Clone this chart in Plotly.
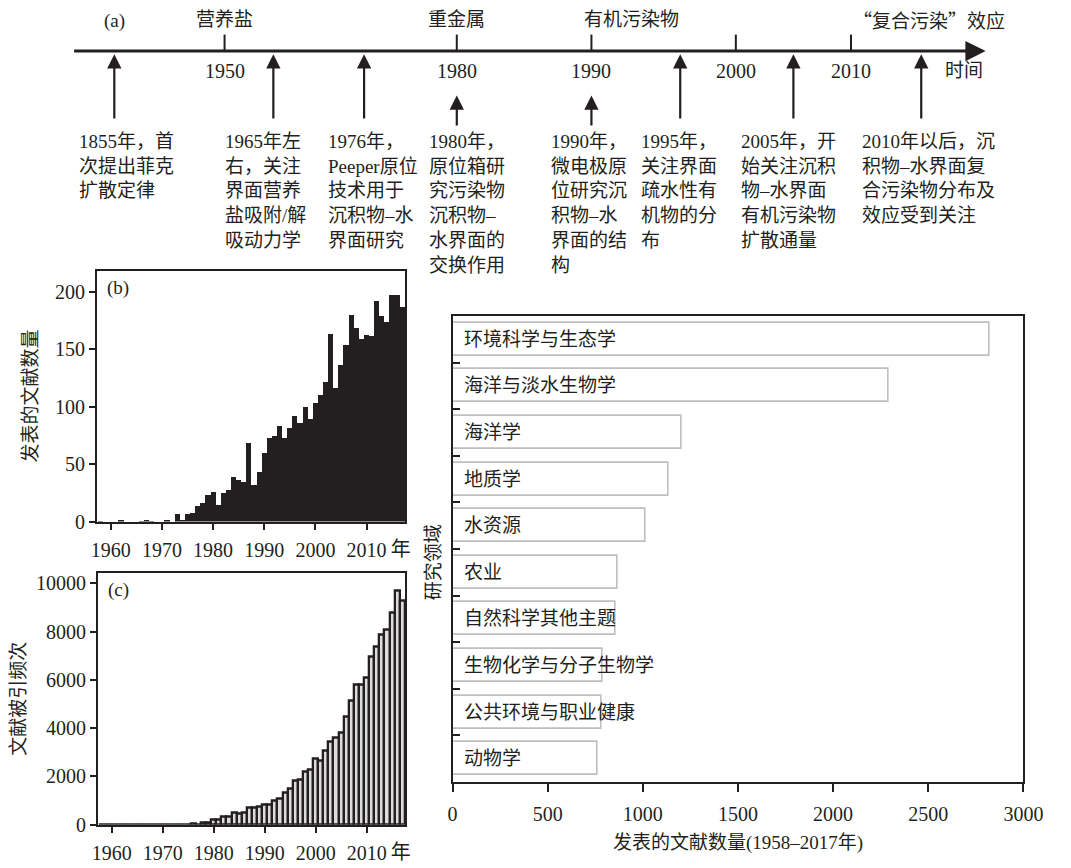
import plotly.graph_objects as go

W, H = 1071, 868
INK = "#231f20"
FONT = "Liberation Serif, Noto Sans CJK SC, serif"
CJK = "Noto Sans CJK SC"

# ---------------- data ----------------
years = list(range(1958, 2018))
papers = [1, 0, 0, 0, 2, 0, 0, 0, 1, 2, 1, 0,
          0, 2, 0, 7, 2, 7, 8, 14, 17, 24,
          26, 15, 25, 28, 39, 37, 35, 69, 32, 44,
          60, 73, 75, 84, 73, 82, 92, 86, 100, 90,
          104, 111, 122, 164, 117, 137, 154, 180, 169, 159,
          163, 162, 192, 179, 174, 198, 198, 187]
citations = [0, 0, 0, 0, 0, 0, 0, 0, 0, 0, 0, 0,
             0, 0, 0, 0, 0, 0, 30, 20, 70, 80,
             190, 200, 350, 350, 520, 450, 500, 700, 700, 740,
             850, 850, 980, 1090, 1310, 1500, 1810, 1880, 2210, 2290,
             2740, 2660, 3070, 3460, 3590, 3830, 4470, 5160, 5800, 5800,
             6100, 6970, 7390, 7890, 8090, 8790, 9690, 9280]
year_ticks = [1960, 1970, 1980, 1990, 2000, 2010]

fields = ["环境科学与生态学", "海洋与淡水生物学", "海洋学", "地质学", "水资源",
          "农业", "自然科学其他主题", "生物化学与分子生物学", "公共环境与职业健康", "动物学"]
field_counts = [2824, 2289, 1206, 1134, 1012, 867, 859, 787, 782, 760]

# timeline content
tl_years = ["1950", "1980", "1990", "2000", "2010"]
tl_themes = {"1950": "营养盐", "1980": "重金属", "1990": "有机污染物", "2010": "“复合污染”效应"}
tl_events = [
    ["1855年，首", "次提出菲克", "扩散定律"],
    ["1965年左", "右，关注", "界面营养", "盐吸附/解", "吸动力学"],
    ["1976年，", "Peeper原位", "技术用于", "沉积物–水", "界面研究"],
    ["1980年，", "原位箱研", "究污染物", "沉积物–", "水界面的", "交换作用"],
    ["1990年，", "微电极原", "位研究沉", "积物–水", "界面的结", "构"],
    ["1995年，", "关注界面", "疏水性有", "机物的分", "布"],
    ["2005年，开", "始关注沉积", "物–水界面", "有机污染物", "扩散通量"],
    ["2010年以后，沉", "积物–水界面复", "合污染物分布及", "效应受到关注"],
]

# ---------------- timeline layout (schematic, pixel based) ----------------
tl_tick_px = [224, 462, 600, 748, 866]
tl_theme_anchor = {"1950": (224, "center"), "1980": (462, "center"),
                   "1990": (590, "left"), "2010": (866, "left")}
ev_arrow_px = [111, 274, 367, 462, 600, 691, 807, 938]
ev_short = [False, False, False, True, True, False, False, False]
ev_text_px = [73, 222, 328, 431, 556, 649, 751, 875]

NUM_SIZE = 20
TXT_SIZE = 19
YEAR_RANGE = [1957.3, 2017.6]


def px(x):
    return x / W


def py(y):
    return 1 - y / H


def cjk_quotes(s):
    # render curly quotes with the CJK face so they take full width
    for q in ("“", "”"):
        s = s.replace(q, f'<span style="font-family:{CJK}">{q}</span>')
    return s


def label(text, x, y, size=TXT_SIZE, xanchor="center", yanchor="middle", **kw):
    return dict(text=text, x=px(x), y=py(y), xref="paper", yref="paper",
                xanchor=xanchor, yanchor=yanchor, showarrow=False,
                font=dict(size=size, color=INK, family=FONT), **kw)


fig = go.Figure()

# (b) papers per year
fig.add_trace(go.Bar(x=years, y=papers, width=1.0, xaxis="x", yaxis="y",
                     marker=dict(color=INK, line=dict(width=0)), showlegend=False))
# (c) citations per year
fig.add_trace(go.Bar(x=years, y=citations, width=1.0, xaxis="x2", yaxis="y2",
                     marker=dict(color="#dcdcdc", line=dict(color=INK, width=2.3)),
                     showlegend=False))
# (d) research fields
fig.add_trace(go.Bar(x=field_counts, y=fields, orientation="h", width=0.705,
                     xaxis="x3", yaxis="y3",
                     marker=dict(color="white", line=dict(color="#bfbfbf", width=1.6)),
                     showlegend=False))
# empty traces so the unit axes ("年") over panels b and c are drawn
fig.add_trace(go.Scatter(x=[], y=[], xaxis="x4", yaxis="y", showlegend=False))
fig.add_trace(go.Scatter(x=[], y=[], xaxis="x5", yaxis="y2", showlegend=False))

axis_common = dict(showline=True, linecolor=INK, linewidth=2, mirror=True,
                   showgrid=False, zeroline=False, ticks="outside", tickcolor=INK,
                   tickwidth=2, ticklen=6,
                   tickfont=dict(family=FONT, size=NUM_SIZE, color=INK))
unit_axis = dict(range=YEAR_RANGE, tickvals=[2016.7], ticktext=["年"],
                 ticks="outside", ticklen=6, tickcolor="rgba(0,0,0,0)",
                 showline=False, showgrid=False, zeroline=False, side="bottom",
                 tickfont=dict(family=FONT, size=NUM_SIZE, color=INK))
title_font = dict(family=FONT, size=TXT_SIZE, color=INK)

fig.update_layout(
    width=W, height=H, margin=dict(l=0, r=0, t=0, b=0),
    paper_bgcolor="white", plot_bgcolor="white",
    font=dict(family=FONT, size=TXT_SIZE, color=INK),
    bargap=0,
    xaxis=dict(domain=[px(93.3), px(409.3)], range=YEAR_RANGE, anchor="y",
               tickvals=year_ticks, ticklabelstandoff=3, **axis_common),
    yaxis=dict(domain=[py(528.3), py(274)], range=[0, 218.5], anchor="x",
               tickvals=[0, 50, 100, 150, 200],
               title=dict(text="发表的文献数量", font=title_font, standoff=12),
               **axis_common),
    xaxis2=dict(domain=[px(94.3), px(409.3)], range=YEAR_RANGE, anchor="y2",
                tickvals=year_ticks, ticklabelstandoff=3, **axis_common),
    yaxis2=dict(domain=[py(835.3), py(580)], range=[0, 10450], anchor="x2",
                tickvals=[0, 2000, 4000, 6000, 8000, 10000], tickformat="d",
                title=dict(text="文献被引频次", font=title_font, standoff=5),
                **axis_common),
    xaxis3=dict(domain=[px(457.7), px(1042.7)], range=[0, 3000], anchor="y3",
                tickvals=[0, 500, 1000, 1500, 2000, 2500, 3000], ticklabelstandoff=5,
                title=dict(text="发表的文献数量(1958–2017年)", font=title_font, standoff=12),
                **{**axis_common, "ticklen": 8}),
    yaxis3=dict(domain=[py(792), py(320)], anchor="x3", type="category",
                categoryorder="array", categoryarray=fields, range=[9.5, -0.5],
                tickson="boundaries", showticklabels=False,
                **{**axis_common, "ticks": "inside", "ticklen": 7}),
    xaxis4=dict(overlaying="x", anchor="y", ticklabelstandoff=3, **unit_axis),
    xaxis5=dict(overlaying="x2", anchor="y2", ticklabelstandoff=3, **unit_axis),
)

ann = []
shapes = []

# panel letters and the field-axis title
ann.append(label("(b)", 115, 292))
ann.append(label("(c)", 115, 598))
ann.append(label("研究领域", 438, 569, textangle=-90))

# field names written inside the bars
for f in fields:
    ann.append(dict(text=f, x=0, y=f, xref="x3", yref="y3", xanchor="left",
                    yanchor="middle", xshift=9, showarrow=False,
                    font=dict(size=TXT_SIZE, color=INK, family=FONT)))

# ---- timeline (a) ----
LINE_Y = 51.7
ann.append(label("(a)", 111, 21))
ann.append(dict(text="", x=px(1004), y=py(LINE_Y), xref="paper", yref="paper",
                showarrow=True, ax=-913, ay=0, arrowhead=2, arrowsize=1.35,
                arrowwidth=3, arrowcolor=INK))
for lab, tx in zip(tl_years, tl_tick_px):
    shapes.append(dict(type="line", xref="paper", yref="paper",
                       x0=px(tx), x1=px(tx), y0=py(35), y1=py(LINE_Y),
                       line=dict(color=INK, width=2)))
    ann.append(label(lab, tx, 71.7, size=NUM_SIZE))
    if lab in tl_themes:
        ax_, anchor = tl_theme_anchor[lab]
        ann.append(label(cjk_quotes(tl_themes[lab]), ax_, 20, xanchor=anchor))
ann.append(label("时间", 982, 71.7))

for lines, axp, short, txp in zip(tl_events, ev_arrow_px, ev_short, ev_text_px):
    tip, tail = (96.7, 128.3) if short else (55, 120.7)
    ann.append(dict(text="", x=px(axp), y=py(tip), xref="paper", yref="paper",
                    showarrow=True, ax=0, ay=tail - tip, arrowhead=2, arrowsize=1.3,
                    arrowwidth=2.2, arrowcolor=INK))
    ann.append(label("<br>".join(lines), txp, 131, xanchor="left", yanchor="top",
                     align="left"))

fig.update_layout(annotations=ann, shapes=shapes)
fig.write_html("out.html")
